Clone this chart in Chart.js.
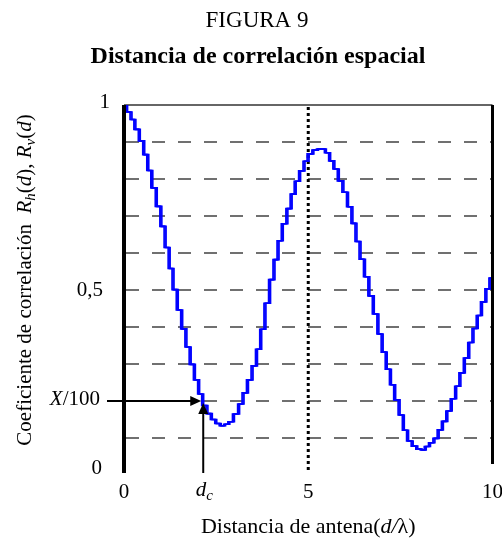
<!DOCTYPE html>
<html lang="es">
<head>
<meta charset="UTF-8">
<title>Distancia de correlación espacial</title>
<script src="https://cdnjs.cloudflare.com/ajax/libs/chart.js/4.4.1/chart.umd.min.js"></script>
<style>
  body { margin: 0; background: #fff; }
  canvas { display: block; }
</style>
</head>
<body>
<canvas id="corrChart" width="502" height="542"></canvas>
<script>
// values (d/lambda, correlation coefficient)
const distance = [0, 0.14, 0.24, 0.35, 0.48, 0.59, 0.70, 0.81, 0.94, 1.06, 1.17, 1.28, 1.38, 1.51, 1.62, 1.74,
  1.85, 1.97, 2.08, 2.19, 2.31, 2.43, 2.55, 2.67, 2.79, 2.90, 3.04, 3.18, 3.28, 3.42, 3.53, 3.66, 3.76, 3.89,
  4.01, 4.13, 4.23, 4.36, 4.48, 4.59, 4.70, 4.83, 4.94, 5.05, 5.20, 5.30, 5.41, 5.52, 5.64, 5.75, 5.88, 6.00,
  6.13, 6.24, 6.35, 6.46, 6.59, 6.70, 6.83, 6.95, 7.06, 7.17, 7.29, 7.40, 7.53, 7.63, 7.76, 7.88, 8.01, 8.12,
  8.23, 8.35, 8.47, 8.58, 8.70, 8.82, 8.94, 9.06, 9.17, 9.30, 9.41, 9.53, 9.64, 9.76, 9.88, 9.98];
const correlation = [1.0, 0.981, 0.961, 0.934, 0.903, 0.866, 0.823, 0.776, 0.726, 0.672, 0.615, 0.558, 0.501, 0.446, 0.395, 0.346,
  0.299, 0.257, 0.219, 0.188, 0.166, 0.150, 0.139, 0.133, 0.137, 0.144, 0.165, 0.192, 0.222, 0.257, 0.295, 0.340, 0.394, 0.464,
  0.528, 0.582, 0.633, 0.679, 0.720, 0.759, 0.794, 0.822, 0.848, 0.868, 0.878, 0.881, 0.881, 0.871, 0.849, 0.827, 0.795, 0.764,
  0.725, 0.680, 0.631, 0.583, 0.536, 0.484, 0.435, 0.381, 0.332, 0.286, 0.244, 0.203, 0.162, 0.121, 0.092, 0.078, 0.070, 0.068,
  0.077, 0.087, 0.099, 0.122, 0.145, 0.173, 0.206, 0.240, 0.276, 0.316, 0.358, 0.396, 0.431, 0.468, 0.503, 0.532];

const gridLevels = [0.1, 0.2, 0.3, 0.4, 0.5, 0.6, 0.7, 0.8, 0.9];
const dcValue = 2.15;      // d_c marker
const xLevel = 0.2;        // X/100 level
const markerLine = 5;      // dotted vertical line

const serif = '"Liberation Serif", "Times New Roman", serif';

// draw text made of several runs (italic / subscript) centred or aligned at x
function drawRuns(ctx, runs, x, y, align, size) {
  const fontOf = r => (r.bold ? 'bold ' : '') + (r.italic ? 'italic ' : '') + (r.sub ? Math.round(size * 0.7) : size) + 'px ' + serif;
  let total = 0;
  runs.forEach(r => { ctx.font = fontOf(r); total += ctx.measureText(r.t).width; });
  let cx = align === 'center' ? x - total / 2 : align === 'right' ? x - total : x;
  ctx.textAlign = 'left';
  ctx.textBaseline = 'middle';
  runs.forEach(r => {
    ctx.font = fontOf(r);
    ctx.fillText(r.t, cx, y + (r.sub ? size * 0.3 : 0));
    cx += ctx.measureText(r.t).width;
  });
}

function arrowHead(ctx, x, y, dir) {
  ctx.beginPath();
  if (dir === 'right') { ctx.moveTo(x, y); ctx.lineTo(x - 11, y - 5); ctx.lineTo(x - 11, y + 5); }
  else { ctx.moveTo(x, y); ctx.lineTo(x - 5, y + 11); ctx.lineTo(x + 5, y + 11); }
  ctx.closePath();
  ctx.fill();
}

const backgroundPlugin = {
  id: 'gridBack',
  beforeDatasetsDraw(chart) {
    const { ctx, chartArea: a, scales: { x, y } } = chart;
    ctx.save();
    ctx.strokeStyle = '#707070';
    ctx.lineWidth = 2;
    ctx.setLineDash([13, 13]);
    gridLevels.forEach(v => {
      const py = Math.round(y.getPixelForValue(v));
      ctx.beginPath();
      ctx.moveTo(a.left + 2, py);
      ctx.lineTo(a.right, py);
      ctx.stroke();
    });
    ctx.setLineDash([]);
    // top frame line
    ctx.strokeStyle = '#333';
    ctx.lineWidth = 1.5;
    ctx.beginPath();
    ctx.moveTo(a.left, y.getPixelForValue(1));
    ctx.lineTo(a.right, y.getPixelForValue(1));
    ctx.stroke();
    // dotted line at d/lambda = 5
    ctx.strokeStyle = '#000';
    ctx.lineWidth = 3;
    ctx.setLineDash([3, 3]);
    const px = x.getPixelForValue(markerLine);
    ctx.beginPath();
    ctx.moveTo(px, a.top + 2);
    ctx.lineTo(px, a.bottom - 2);
    ctx.stroke();
    ctx.restore();
  },
  // the staircase is drawn a few times side by side: wide risers, thin treads
  beforeDatasetDraw(chart, args) {
    chart.ctx.save();
    chart.ctx.translate(args.meta._dataset.shift || 0, 0);
  },
  afterDatasetDraw(chart) {
    chart.ctx.restore();
  }
};

const overlayPlugin = {
  id: 'overlay',
  afterDraw(chart) {
    const { ctx, chartArea: a, scales: { x, y } } = chart;
    ctx.save();
    ctx.fillStyle = '#000';
    ctx.strokeStyle = '#000';

    // axes
    ctx.lineWidth = 4;
    ctx.beginPath();
    ctx.moveTo(a.left, a.top);
    ctx.lineTo(a.left, a.bottom - 2);
    ctx.stroke();
    ctx.lineWidth = 3;
    ctx.beginPath();
    ctx.moveTo(a.right, a.top);
    ctx.lineTo(a.right, a.bottom - 11);
    ctx.stroke();

    // X/100 and d_c arrows
    const ax = x.getPixelForValue(dcValue);
    const ay = y.getPixelForValue(xLevel);
    ctx.lineWidth = 2;
    ctx.beginPath();
    ctx.moveTo(a.left - 17, ay);
    ctx.lineTo(ax - 8, ay);
    ctx.stroke();
    arrowHead(ctx, ax - 2, ay, 'right');
    ctx.beginPath();
    ctx.moveTo(ax, a.bottom - 2);
    ctx.lineTo(ax, ay + 8);
    ctx.stroke();
    arrowHead(ctx, ax, ay + 2, 'up');

    // titles
    ctx.textAlign = 'center';
    ctx.textBaseline = 'middle';
    ctx.font = '23px ' + serif;
    ctx.fillText('FIGURA 9', 257, 21);
    ctx.font = 'bold 24px ' + serif;
    ctx.fillText('Distancia de correlación espacial', 258, 57);

    // y tick labels
    const size = 21;
    drawRuns(ctx, [{ t: '1' }], a.left - 14, y.getPixelForValue(1) - 3, 'right', size);
    drawRuns(ctx, [{ t: '0,5' }], a.left - 21, y.getPixelForValue(0.5), 'right', size);
    drawRuns(ctx, [{ t: 'X', italic: true }, { t: '/100' }], a.left - 24, ay - 2, 'right', size);
    drawRuns(ctx, [{ t: '0' }], a.left - 22, y.getPixelForValue(0) - 7, 'right', size);

    // x tick labels
    const ty = a.bottom + 17;
    drawRuns(ctx, [{ t: '0' }], x.getPixelForValue(0), ty, 'center', size);
    drawRuns(ctx, [{ t: 'd', italic: true }, { t: 'c', italic: true, sub: true }], ax + 1, ty - 2, 'center', size);
    drawRuns(ctx, [{ t: '5' }], x.getPixelForValue(5), ty, 'center', size);
    drawRuns(ctx, [{ t: '10' }], x.getPixelForValue(10), ty, 'center', size);

    // x axis title
    drawRuns(ctx, [{ t: 'Distancia de antena(' }, { t: 'd/', italic: true }, { t: 'λ)' }],
      x.getPixelForValue(5), 527, 'center', 22);

    // y axis title (rotated)
    ctx.translate(25, 280);
    ctx.rotate(-Math.PI / 2);
    drawRuns(ctx, [
      { t: 'Coeficiente de correlación  ' },
      { t: 'R', italic: true }, { t: 'h', italic: true, sub: true },
      { t: '(' }, { t: 'd', italic: true }, { t: '), ' },
      { t: 'R', italic: true }, { t: 'v', italic: true, sub: true },
      { t: '(' }, { t: 'd', italic: true }, { t: ')' }
    ], 0, 0, 'center', 21);
    ctx.restore();
  }
};

const points = distance.map((d, i) => ({ x: d, y: correlation[i] }));
const curve = shift => ({
  data: points,
  shift: shift,
  borderColor: '#0000ff',
  borderWidth: 1.6,
  stepped: 'middle',
  pointRadius: 0,
  fill: false
});

new Chart(document.getElementById('corrChart').getContext('2d'), {
  type: 'line',
  data: { datasets: [curve(-1), curve(0), curve(1)] },
  options: {
    responsive: false,
    animation: false,
    layout: { padding: { left: 124, right: 9.5, top: 105, bottom: 67 } },
    plugins: { legend: { display: false }, tooltip: { enabled: false } },
    scales: {
      x: { type: 'linear', min: 0, max: 10, display: false },
      y: { min: 0, max: 1, display: false }
    }
  },
  plugins: [backgroundPlugin, overlayPlugin]
});
</script>
</body>
</html>
